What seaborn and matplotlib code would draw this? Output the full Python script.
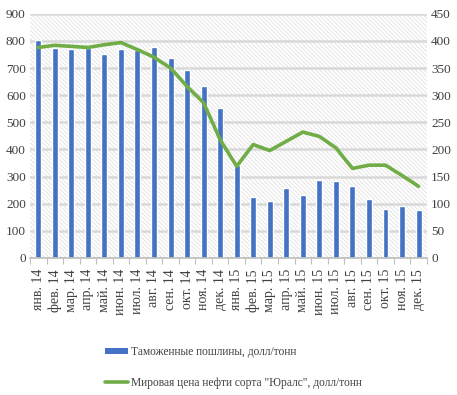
import numpy as np
import pandas as pd
import matplotlib
matplotlib.use('Agg')
import matplotlib.pyplot as plt
import seaborn as sns
from matplotlib.patches import Rectangle
from matplotlib.lines import Line2D

# данные (оценены по картинке)
месяцы = ['янв. 14', 'фев. 14', 'мар. 14', 'апр. 14', 'май. 14', 'июн. 14', 'июл. 14', 'авг. 14',
          'сен. 14', 'окт. 14', 'ноя. 14', 'дек. 14', 'янв. 15', 'фев. 15', 'мар. 15', 'апр. 15',
          'май. 15', 'июн. 15', 'июл. 15', 'авг. 15', 'сен. 15', 'окт. 15', 'ноя. 15', 'дек. 15']
пошлины = [802, 773, 770, 775, 753, 770, 768, 776, 736, 692, 633, 554,
           342, 225, 210, 258, 231, 286, 285, 265, 217, 181, 193, 176]
цена_юралс = [388, 392, 390, 388, 393, 397, 384, 370, 350, 316, 286, 218,
              169, 209, 198, 215, 232, 224, 203, 165, 171, 171, 152, 132]

СИНИЙ = '#4472C4'
ЗЕЛЕНЫЙ = '#70AD47'

sns.set_theme(style='white')
plt.rcParams['font.family'] = ['Liberation Serif', 'DejaVu Serif']
plt.rcParams['hatch.linewidth'] = 0.5

df = pd.DataFrame({'Месяц': месяцы, 'Пошлина': пошлины, 'Цена': цена_юралс})

fig = plt.figure(figsize=(4.57, 3.95), dpi=100)
ax = fig.add_axes([0.0656, 0.347, 0.8684, 0.618])

# штриховка фона
ax.add_patch(Rectangle((0, 0), 1, 1, transform=ax.transAxes, facecolor='white',
                       edgecolor='#dcdcdc', hatch='\\' * 8, linewidth=0, zorder=0))
ax.set_axisbelow(True)
ax.yaxis.grid(True, color='#d9d9d9', linewidth=1.8, zorder=1)

sns.barplot(data=df, x='Месяц', y='Пошлина', color=СИНИЙ, width=0.36,
            saturation=1, ax=ax, zorder=2)
ax.set_xlim(-0.5, len(месяцы) - 0.5)
ax.set_ylim(0, 900)
ax.set_yticks(range(0, 901, 100))
ax.set_xlabel('')
ax.set_ylabel('')

ax2 = ax.twinx()
sns.lineplot(x=np.arange(len(месяцы)), y=df['Цена'], color=ЗЕЛЕНЫЙ, linewidth=2.6,
             ax=ax2, zorder=3)
ax2.set_ylim(0, 450)
ax2.set_yticks(range(0, 451, 50))
ax2.set_ylabel('')

for a in (ax, ax2):
    for s in a.spines.values():
        s.set_visible(False)
    a.tick_params(axis='y', length=0, labelsize=9.5, colors='#404040', pad=3)
ax.spines['bottom'].set_visible(True)
ax.spines['bottom'].set_color('#bfbfbf')

ax.set_xticks(range(len(месяцы)))
ax.set_xticklabels(месяцы, rotation=90, fontsize=10, color='#404040')
ax.set_xticks(np.arange(-0.5, len(месяцы), 1), minor=True)
ax.tick_params(axis='x', which='major', length=0, pad=8)
ax.tick_params(axis='x', which='minor', length=4, color='#bfbfbf', width=0.8, bottom=True)

ручки = [Rectangle((0, 0), 1, 1, facecolor=СИНИЙ, edgecolor='none'),
         Line2D([], [], color=ЗЕЛЕНЫЙ, linewidth=2.6)]
подписи = ['Таможенные пошлины, долл/тонн',
           'Мировая цена нефти сорта "Юралс", долл/тонн']
fig.legend(ручки, подписи, loc='upper left', bbox_to_anchor=(0.208, 0.15),
           frameon=False, fontsize=8.3, handlelength=2.0, handleheight=0.5,
           handletextpad=0.25, labelspacing=1.65, labelcolor='#404040')

fig.savefig('out.png', dpi=100)
